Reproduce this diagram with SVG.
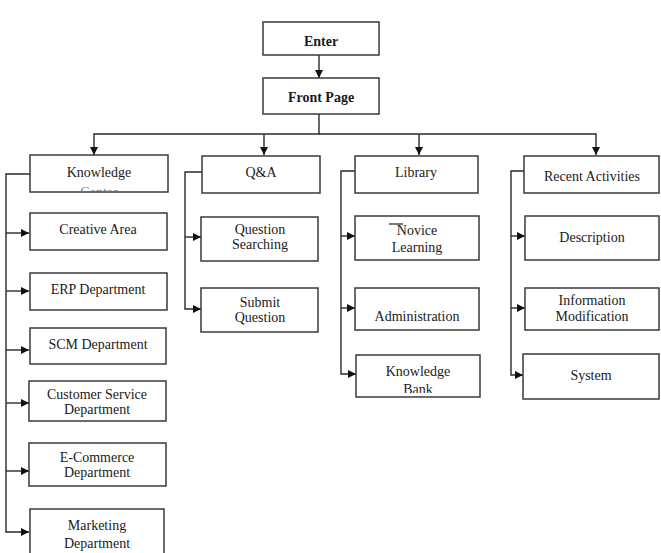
<svg xmlns="http://www.w3.org/2000/svg" width="661" height="553" viewBox="0 0 661 553">
<style>
.box{fill:#fff;stroke:#3a3a3a;stroke-width:1.5}
.t{font-family:"Liberation Serif","Times New Roman",serif;font-size:14px;fill:#1a1a1a;text-anchor:middle}
.b{font-weight:bold}
.c{fill:none;stroke:#2a2a2a;stroke-width:1.4}
</style>
<defs>
<marker id="ah" markerUnits="userSpaceOnUse" markerWidth="9" markerHeight="9" refX="8" refY="4" orient="auto">
<path d="M0,0 L8,4 L0,8 z" fill="#111"/>
</marker>
<clipPath id="ckc"><rect x="31" y="156" width="136" height="35"/></clipPath>
<clipPath id="ckb"><rect x="357" y="356" width="122" height="37"/></clipPath>
<clipPath id="cnl"><rect x="356" y="217" width="122" height="38"/></clipPath>
</defs>
<rect width="661" height="553" fill="#fff"/>
<g id="connectors" class="c" marker-end="url(#ah)">
<path d="M319 55 V78"/>
<path d="M319 114 V134 H94 V155"/>
<path d="M319 134 H596 V155"/>
<path d="M264 134 V155"/>
<path d="M419 134 V155"/>
<path d="M30 174 H6 V532 H29"/>
<path d="M6 233 H29"/>
<path d="M6 291 H29"/>
<path d="M6 350 H29"/>
<path d="M6 403 H29"/>
<path d="M6 471 H29"/>
<path d="M202 172 H185 V309 H201"/>
<path d="M185 237 H201"/>
<path d="M355 171 H341 V374 H356"/>
<path d="M341 236 H355"/>
<path d="M341 308 H355"/>
<path d="M524 171 H511 V375 H523"/>
<path d="M511 236 H525"/>
<path d="M511 308 H525"/>
</g>
<g id="enter"><rect class="box" x="263" y="22" width="116" height="33"/><text class="t b" x="321" y="46">Enter</text></g>
<g id="front-page"><rect class="box" x="263" y="78" width="116" height="36"/><text class="t b" x="321" y="102">Front Page</text></g>
<g id="knowledge-center"><rect class="box" x="30" y="155" width="138" height="37"/><text class="t" x="99" y="177">Knowledge</text><text class="t" x="99" y="197" clip-path="url(#ckc)" fill-opacity="0.6">Center</text></g>
<g id="qa"><rect class="box" x="202" y="156" width="118" height="37"/><text class="t" x="261" y="177">Q&amp;A</text></g>
<g id="library"><rect class="box" x="355" y="156" width="123" height="37"/><text class="t" x="416" y="177">Library</text></g>
<g id="recent-activities"><rect class="box" x="524" y="156" width="135" height="37"/><text class="t" x="592" y="181">Recent Activities</text></g>
<g id="creative-area"><rect class="box" x="30" y="213" width="137" height="37"/><text class="t" x="98" y="234">Creative Area</text></g>
<g id="erp"><rect class="box" x="30" y="273" width="137" height="37"/><text class="t" x="98" y="294">ERP Department</text></g>
<g id="scm"><rect class="box" x="30" y="328" width="136" height="36"/><text class="t" x="98" y="349">SCM Department</text></g>
<g id="customer-service"><rect class="box" x="29" y="381" width="137" height="40"/><text class="t" x="97" y="399">Customer Service</text><text class="t" x="97" y="414">Department</text></g>
<g id="e-commerce"><rect class="box" x="29" y="443" width="137" height="43"/><text class="t" x="97" y="462">E-Commerce</text><text class="t" x="97" y="477">Department</text></g>
<g id="marketing"><rect class="box" x="30" y="509" width="134" height="60"/><text class="t" x="97" y="530">Marketing</text><text class="t" x="97" y="548">Department</text></g>
<g id="question-searching"><rect class="box" x="201" y="217" width="117" height="44"/><text class="t" x="260" y="234">Question</text><text class="t" x="260" y="249">Searching</text></g>
<g id="submit-question"><rect class="box" x="201" y="288" width="117" height="44"/><text class="t" x="260" y="307">Submit</text><text class="t" x="260" y="322">Question</text></g>
<g id="novice-learning"><rect class="box" x="355" y="216" width="124" height="44"/><line x1="389" y1="224" x2="403" y2="224" stroke="#222" stroke-width="1.2"/><text class="t" x="417" y="235">Novice</text><text class="t" x="417" y="252" clip-path="url(#cnl)">Learning</text></g>
<g id="administration"><rect class="box" x="355" y="288" width="124" height="42"/><text class="t" x="417" y="321">Administration</text></g>
<g id="knowledge-bank"><rect class="box" x="356" y="355" width="124" height="42"/><text class="t" x="418" y="376">Knowledge</text><text class="t" x="418" y="394" clip-path="url(#ckb)">Bank</text></g>
<g id="description"><rect class="box" x="525" y="216" width="134" height="44"/><text class="t" x="592" y="242">Description</text></g>
<g id="information-modification"><rect class="box" x="525" y="288" width="134" height="42"/><text class="t" x="592" y="305">Information</text><text class="t" x="592" y="321">Modification</text></g>
<g id="system"><rect class="box" x="523" y="354" width="136" height="45"/><text class="t" x="591" y="380">System</text></g>
</svg>
